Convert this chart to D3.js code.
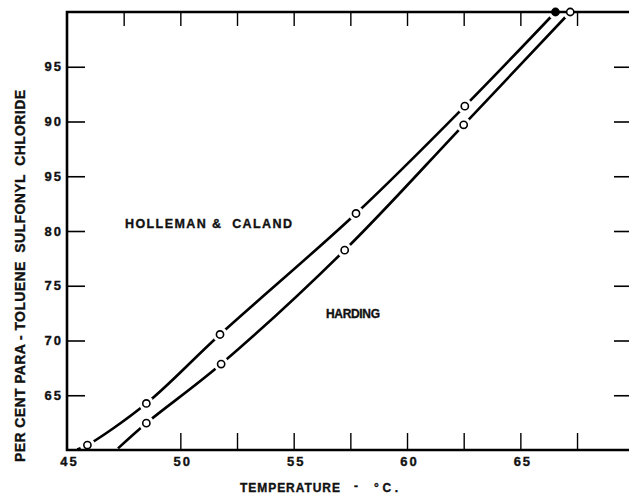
<!DOCTYPE html>
<html>
<head>
<meta charset="utf-8">
<script src="https://cdn.jsdelivr.net/npm/d3@7/dist/d3.min.js"></script>
<style>
  html, body { margin: 0; padding: 0; background: #fff; }
  svg { display: block; }
  text { font-family: "Liberation Sans", Arial, sans-serif; font-weight: bold; fill: #111;
         stroke: #111; stroke-width: 0.35px; }
</style>
</head>
<body>
<svg id="chart" width="629" height="496"></svg>
<script>
// ---- data ----
const xLabelTicks = [45, 50, 55, 60, 65];
const xBottomTicks = [50, 52.5, 55, 57.5, 60, 62.5, 65, 67.5];
const xTopTicks = [47.5, 50, 52.5, 55, 57.5, 60, 62.5, 65, 67.5];
const yTickValues = [65, 70, 75, 80, 85, 90, 95];
const yTickLabels = ["65", "70", "75", "80", "95", "90", "95"]; // as printed in the original

// Holleman & Caland curve
const hollemanTemp = [45.9, 48.5, 51.75, 57.75, 62.55, 66.55];
const hollemanPct  = [60.45, 64.25, 70.55, 81.6, 91.4, 100];
const hollemanStart = [45.45, 60.05];
// Harding curve
const hardingTemp = [48.5, 51.8, 57.25, 62.5, 67.2];
const hardingPct  = [62.45, 67.85, 78.25, 89.7, 100];
const hardingStart = [47.25, 60.15];

// ---- layout ----
const svg = d3.select("#chart");
const mLeft = 67, mTop = 12, mBottom = 450, mRight = 629;
const x = d3.scaleLinear().domain([45, 70]).range([67, 633.7]);
const y = d3.scaleLinear().domain([60, 100]).range([mBottom, mTop]);

const hol = hollemanTemp.map((t, i) => [t, hollemanPct[i]]);
const har = hardingTemp.map((t, i) => [t, hardingPct[i]]);

const line = d3.line().x(d => x(d[0])).y(d => y(d[1])).curve(d3.curveCatmullRom.alpha(0.5));

// curves
[[hollemanStart, ...hol], [hardingStart, ...har]].forEach(pts => {
  svg.append("path").attr("d", line(pts))
    .attr("fill", "none").attr("stroke", "#000").attr("stroke-width", 2.6)
    .attr("stroke-linecap", "butt");
});

// gaps around markers
[...hol, ...har].forEach(d => {
  svg.append("circle").attr("cx", x(d[0])).attr("cy", y(d[1])).attr("r", 7.5)
    .attr("fill", "#fff");
});

// ---- axes ----
const gL = svg.append("g").attr("transform", `translate(${mLeft},0)`)
  .call(d3.axisLeft(y).tickValues(yTickValues).tickSizeInner(-18).tickSizeOuter(0)
        .tickPadding(4).tickFormat((d, i) => yTickLabels[i]));
gL.select(".domain").remove();
gL.selectAll(".tick line").attr("stroke", "#000").attr("stroke-width", 1.6);
gL.selectAll(".tick text").attr("font-family", null).attr("font-size", null)
  .style("font-size", "13px").style("letter-spacing", "2px");

const gR = svg.append("g").attr("transform", `translate(${mRight},0)`)
  .call(d3.axisRight(y).tickValues(yTickValues).tickSizeInner(-15).tickSizeOuter(0).tickFormat(""));
gR.select(".domain").remove();
gR.selectAll(".tick line").attr("stroke", "#000").attr("stroke-width", 1.6);

const gB = svg.append("g").attr("transform", `translate(0,${mBottom})`)
  .call(d3.axisBottom(x).tickValues(xBottomTicks).tickSizeInner(-17).tickSizeOuter(0).tickFormat(""));
gB.select(".domain").remove();
gB.selectAll(".tick line").attr("stroke", "#000").attr("stroke-width", 1.4);

const gBL = svg.append("g").attr("transform", `translate(2,${mBottom})`)
  .call(d3.axisBottom(x).tickValues(xLabelTicks).tickSize(0).tickPadding(7).tickFormat(d3.format("d")));
gBL.select(".domain").remove();
gBL.selectAll(".tick text").attr("font-family", null).attr("font-size", null)
  .style("font-size", "13px").style("letter-spacing", "2px");

const gT = svg.append("g").attr("transform", `translate(0,${mTop})`)
  .call(d3.axisTop(x).tickValues(xTopTicks).tickSizeInner(-14).tickSizeOuter(0).tickFormat(""));
gT.select(".domain").remove();
gT.selectAll(".tick line").attr("stroke", "#000").attr("stroke-width", 1.4);

// frame lines (left, top, bottom)
svg.append("path")
  .attr("d", `M${mRight},${mTop}H${mLeft}V${mBottom}H${mRight}`)
  .attr("fill", "none").attr("stroke", "#000").attr("stroke-width", 2.6);

// markers
hol.forEach((d, i) => {
  const isTop = i === hol.length - 1;
  svg.append("circle").attr("cx", x(d[0])).attr("cy", y(d[1])).attr("r", 3.6)
    .attr("fill", isTop ? "#000" : "#fff").attr("stroke", "#000").attr("stroke-width", 1.6);
});
har.forEach(d => {
  svg.append("circle").attr("cx", x(d[0])).attr("cy", y(d[1])).attr("r", 3.6)
    .attr("fill", "#fff").attr("stroke", "#000").attr("stroke-width", 1.6);
});

// ---- titles & annotations ----
svg.append("text")
  .attr("transform", "translate(25,276) rotate(-90)")
  .attr("text-anchor", "middle")
  .attr("textLength", 372).attr("lengthAdjust", "spacing")
  .style("font-size", "14px").style("white-space", "pre")
  .text("PER CENT PARA - TOLUENE  SULFONYL  CHLORIDE");

svg.append("text").attr("x", 240).attr("y", 492)
  .attr("textLength", 100).attr("lengthAdjust", "spacing")
  .style("font-size", "12px").text("TEMPERATURE");
svg.append("text").attr("x", 354).attr("y", 490).style("font-size", "12px").text("-");
svg.append("text").attr("x", 374).attr("y", 492)
  .attr("textLength", 24).attr("lengthAdjust", "spacing")
  .style("font-size", "12px").text("°C.");

svg.append("text").attr("x", 125).attr("y", 228)
  .attr("textLength", 167).attr("lengthAdjust", "spacing")
  .style("font-size", "12.5px").style("white-space", "pre").text("HOLLEMAN &  CALAND");

svg.append("text").attr("x", 326).attr("y", 318)
  .attr("textLength", 54).attr("lengthAdjust", "spacing")
  .style("font-size", "12px").text("HARDING");
</script>
</body>
</html>
